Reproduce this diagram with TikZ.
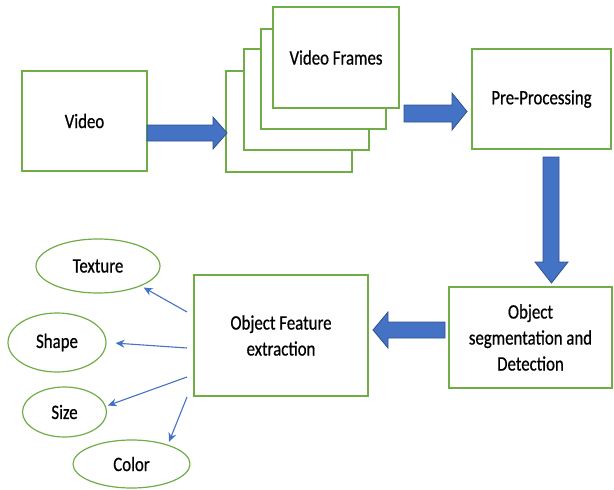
\documentclass[tikz,border=0pt]{standalone}
\usepackage{fontspec}
\setmainfont{Carlito}[FakeStretch=0.82,FakeBold=0.6]
\usetikzlibrary{arrows.meta,shapes.geometric}
\definecolor{bgreen}{RGB}{112,173,71}
\definecolor{ablue}{RGB}{68,114,196}
\definecolor{dblue}{RGB}{47,82,143}
\tikzset{
  box/.style={draw=bgreen, line width=1.4pt, fill=white, inner sep=0pt, align=center,
    font=\fontsize{20.5}{26}\selectfont},
  oval/.style={draw=bgreen, line width=1.2pt, ellipse, inner sep=0pt,
    font=\fontsize{20.5}{26}\selectfont},
  fat/.style={fill=ablue, draw=dblue, line width=0.8pt},
  thin/.style={draw=ablue, line width=1.1pt, -{Stealth[length=9pt,width=8pt]}},
}
\begin{document}
\begin{tikzpicture}[x=1pt,y=-1pt]
\useasboundingbox (0,0) rectangle (614,490);
% boxes
\node[box, minimum width=125pt, minimum height=100pt] (video) at (84.5,121) {Video};
\node[box, minimum width=126pt, minimum height=101pt] (f1) at (289,121.5) {};
\node[box, minimum width=125pt, minimum height=101pt] (f2) at (306.5,99.5) {};
\node[box, minimum width=125pt, minimum height=100pt] (f3) at (323.5,79) {};
\node[box, minimum width=126pt, minimum height=101pt] (frames) at (336,57.5) {Video Frames};
\node[box, minimum width=139pt, minimum height=100pt] (pre) at (541.5,99) {Pre-Processing};
\node[box, minimum width=163pt, minimum height=101pt] (seg) at (530.5,337.5) {Object\\segmentation and\\Detection};
\node[box, minimum width=174pt, minimum height=121pt] (feat) at (281,335.5) {Object Feature\\extraction};
% ellipses
\node[oval, minimum width=124pt, minimum height=54pt] (texture) at (98,266) {Texture};
\node[oval, minimum width=98pt, minimum height=59pt] (shape) at (57,342.5) {Shape};
\node[oval, minimum width=84pt, minimum height=50pt] (size) at (64.5,412) {Size};
\node[oval, minimum width=117pt, minimum height=48pt] (color) at (131.5,464) {Color};
% block arrows
\draw[fat] (147,125) -- (213,125) -- (213,117) -- (227,133) -- (213,149) -- (213,141) -- (147,141) -- cycle;
\draw[fat] (404,105) -- (452,105) -- (452,93) -- (467,111.5) -- (452,130) -- (452,122) -- (404,122) -- cycle;
\draw[fat] (543,157) -- (559,157) -- (559,262) -- (568,262) -- (551.5,283) -- (535,262) -- (543,262) -- cycle;
\draw[fat] (445,322) -- (388,322) -- (388,312) -- (373,330) -- (388,348) -- (388,338) -- (445,338) -- cycle;
% thin arrows
\coordinate (o1) at (187,312);
\coordinate (o2) at (187,348);
\coordinate (o3) at (187,377);
\coordinate (o4) at (187,397);
\draw[thin, shorten >=3pt] (o1) -- (texture.-25);
\draw[thin, shorten >=9pt] (o2) -- (shape.east);
\draw[thin, shorten >=2pt] (o3) -- (size.8);
\draw[thin, shorten >=3pt] (o4) -- (color.28);
\end{tikzpicture}
\end{document}
